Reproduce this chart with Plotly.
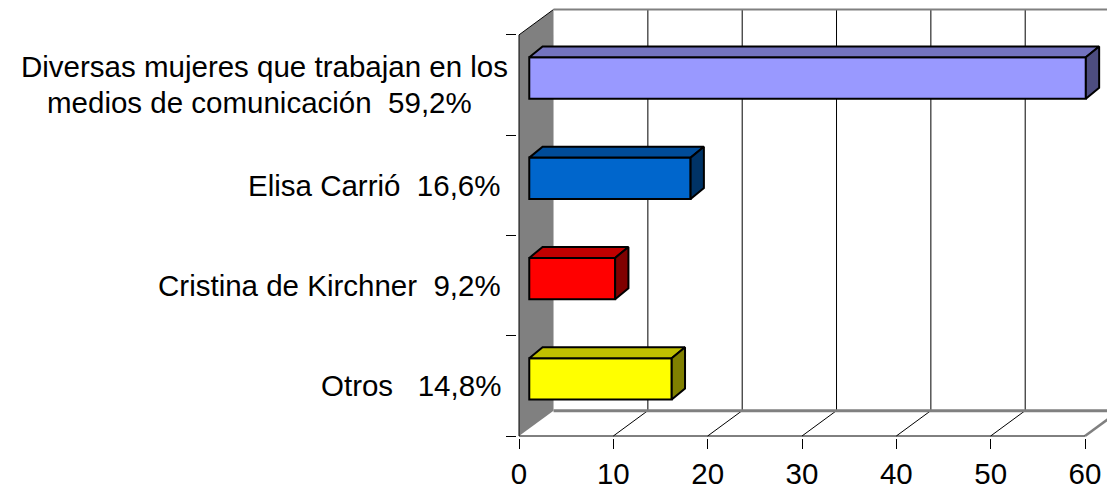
import plotly.graph_objects as go

# ---- data ----
NB = "\u00a0"
label_line1 = ["Diversas mujeres que trabajan en los", "Elisa Carrió" + NB * 2 + "16,6%",
               "Cristina de Kirchner" + NB * 2 + "9,2%", "Otros" + NB * 3 + "14,8%"]
label_line2 = ["medios de comunicación" + NB * 2 + "59,2%", "", "", ""]
values = [59.0, 17.1, 9.1, 15.1]
positions = [3.5, 2.5, 1.5, 0.5]
front_colors = ["#9999FF", "#0066CC", "#FF0000", "#FFFF00"]
top_colors = ["#7373BF", "#004C99", "#C00000", "#C0C000"]
side_colors = ["#4D4D80", "#003366", "#800000", "#808000"]
x_ticks = [0, 10, 20, 30, 40, 50, 60]
y_bounds = [0, 1, 2, 3, 4]

# ---- 3D projection settings (data units) ----
WALL_DX, WALL_DY = 3.66, 0.253
FRONT_DX, FRONT_DY = 1.09, 0.07
BAR_DX, BAR_DY = 1.41, 0.109
BAR_W = 0.412
X_MAX, Y_MAX = 60, 4
X_RANGE = [-0.212, 63.18]
Y_RANGE = [-0.0199, 4.268]
FONT = "Liberation Sans, Arial, sans-serif"
FS = 29.5
GRAY = "#808080"

fig = go.Figure()
shapes = []

# left wall
shapes.append(dict(type="path", layer="below", xref="x", yref="y",
                   path=f"M0,0 L{WALL_DX},{WALL_DY} L{WALL_DX},{Y_MAX+WALL_DY} L0,{Y_MAX} Z",
                   fillcolor=GRAY, line=dict(width=0)))
# top-left diagonal
shapes.append(dict(type="line", layer="below", xref="x", yref="y",
                   x0=0, y0=Y_MAX, x1=WALL_DX, y1=Y_MAX + WALL_DY,
                   line=dict(color="black", width=1)))
# back wall gridlines
for v in x_ticks[1:]:
    shapes.append(dict(type="line", layer="below", xref="x", yref="y",
                       x0=v + WALL_DX, y0=WALL_DY, x1=v + WALL_DX, y1=Y_MAX + WALL_DY,
                       line=dict(color="black", width=1)))
# floor diagonals
for v in x_ticks[1:-1]:
    shapes.append(dict(type="line", layer="below", xref="x", yref="y",
                       x0=v, y0=0, x1=v + WALL_DX, y1=WALL_DY,
                       line=dict(color="black", width=1)))
shapes.append(dict(type="line", layer="below", xref="x", yref="y",
                   x0=X_MAX, y0=0, x1=X_MAX + WALL_DX, y1=WALL_DY,
                   line=dict(color=GRAY, width=2.5)))
# back wall top and bottom edges
shapes.append(dict(type="line", layer="below", xref="x", yref="y",
                   x0=WALL_DX, y0=WALL_DY, x1=X_RANGE[1] + 1, y1=WALL_DY,
                   line=dict(color=GRAY, width=3)))
shapes.append(dict(type="line", layer="below", xref="x", yref="y",
                   x0=WALL_DX, y0=Y_MAX + WALL_DY, x1=X_RANGE[1] + 1, y1=Y_MAX + WALL_DY,
                   line=dict(color=GRAY, width=2)))
# axis lines
shapes.append(dict(type="line", layer="above", xref="x", yref="y",
                   x0=0, y0=0, x1=X_MAX, y1=0, line=dict(color="black", width=1)))
shapes.append(dict(type="line", layer="above", xref="x", yref="y",
                   x0=0, y0=0, x1=0, y1=Y_MAX, line=dict(color="black", width=1)))

# front faces as bars
fig.add_trace(go.Bar(
    y=[p + FRONT_DY for p in positions], x=values, base=FRONT_DX,
    orientation="h", width=BAR_W,
    marker=dict(color=front_colors, line=dict(color="black", width=2)),
    hoverinfo="skip", showlegend=False))

# top and side faces
for v, p, tc, sc in zip(values, positions, top_colors, side_colors):
    yb = p + FRONT_DY - BAR_W / 2
    yt = p + FRONT_DY + BAR_W / 2
    x0 = FRONT_DX
    x1 = FRONT_DX + v
    fig.add_trace(go.Scatter(
        x=[x0, x1, x1 + BAR_DX, x0 + BAR_DX, x0],
        y=[yt, yt, yt + BAR_DY, yt + BAR_DY, yt],
        mode="lines", fill="toself", fillcolor=tc,
        line=dict(color="black", width=2), hoverinfo="skip", showlegend=False))
    fig.add_trace(go.Scatter(
        x=[x1, x1, x1 + BAR_DX, x1 + BAR_DX, x1],
        y=[yb, yt, yt + BAR_DY, yb + BAR_DY, yb],
        mode="lines", fill="toself", fillcolor=sc,
        line=dict(color="black", width=2), hoverinfo="skip", showlegend=False))

# category labels
annotations = []
for l1, l2, p in zip(label_line1, label_line2, positions):
    if l2:
        annotations.append(dict(x=0, y=p, xref="x", yref="y", text=l1, showarrow=False,
                                xanchor="right", yanchor="middle", xshift=-9, yshift=19,
                                font=dict(family=FONT, size=FS, color="black")))
        annotations.append(dict(x=0, y=p, xref="x", yref="y", text=l2, showarrow=False,
                                xanchor="right", yanchor="middle", xshift=-45, yshift=-17,
                                font=dict(family=FONT, size=FS, color="black")))
    else:
        annotations.append(dict(x=0, y=p, xref="x", yref="y", text=l1, showarrow=False,
                                xanchor="right", yanchor="middle", xshift=-16,
                                font=dict(family=FONT, size=FS, color="black")))

# page body has an 8px margin, so the figure is sized to the remaining window
fig.update_layout(
    width=1107, height=482,
    margin=dict(l=509, r=0, t=0, b=50),
    paper_bgcolor="white", plot_bgcolor="white",
    shapes=shapes, annotations=annotations,
    barmode="overlay",
    xaxis=dict(range=X_RANGE, tickvals=x_ticks, ticktext=[str(t) for t in x_ticks],
               ticks="outside", ticklen=10, tickcolor="black", tickwidth=1,
               showgrid=False, zeroline=False, showline=False,
               tickfont=dict(family=FONT, size=FS, color="black")),
    yaxis=dict(range=Y_RANGE, tickvals=y_bounds, ticks="outside", ticklen=10,
               tickcolor="black", tickwidth=1, showticklabels=False,
               showgrid=False, zeroline=False, showline=False),
)

fig.write_html("out.html")
